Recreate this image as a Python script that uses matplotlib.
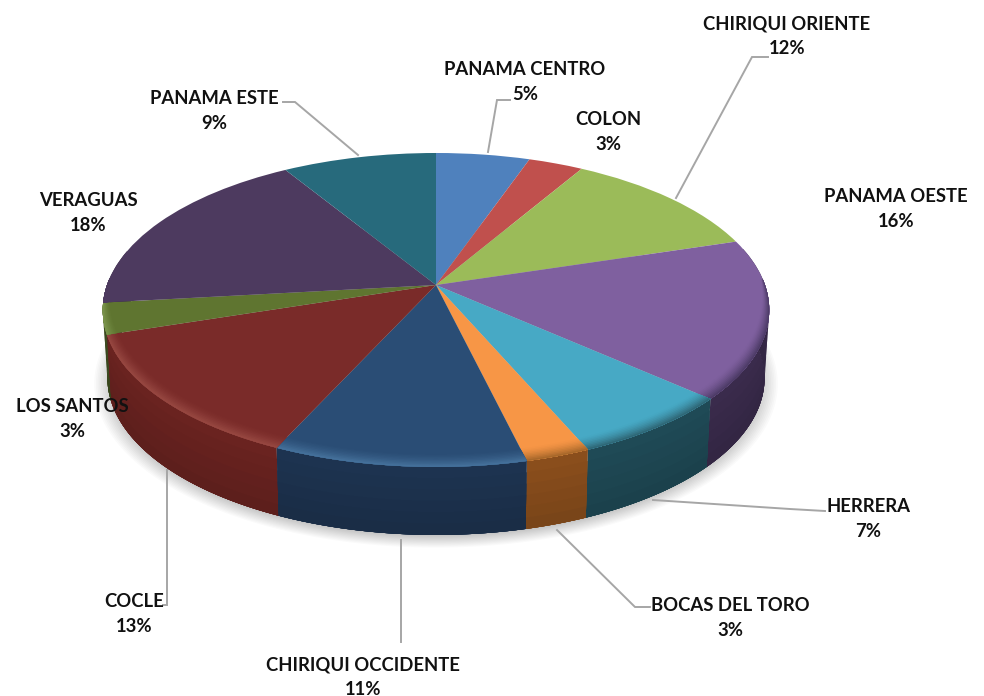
import numpy as np
import matplotlib
matplotlib.use("Agg")
import matplotlib.pyplot as plt
from matplotlib.transforms import Transform
from matplotlib.colors import to_rgb

plt.rcParams['font.family'] = ['Lato', 'DejaVu Sans']

categories = ["PANAMA CENTRO", "COLON", "CHIRIQUI ORIENTE", "PANAMA OESTE", "HERRERA",
              "BOCAS DEL TORO", "CHIRIQUI OCCIDENTE", "COCLE", "LOS SANTOS", "VERAGUAS", "PANAMA ESTE"]
shares = [5.3, 3.1, 11.8, 16.4, 6.95, 2.7, 10.55, 13.2, 3.2, 18.1, 8.7]
percent_labels = ["5%", "3%", "12%", "16%", "7%", "3%", "11%", "13%", "3%", "18%", "9%"]
top_colors = ["#4F81BD", "#C0504D", "#9BBB59", "#7F609F", "#47A9C5", "#F79646",
              "#2A4D75", "#7A2B29", "#5F7530", "#4D3A5F", "#276A7C"]
side_colors = ["#2F4D72", "#76302E", "#5D7035", "#3A2B4C", "#1F4A56", "#8A4E1C",
               "#1D3350", "#6A2320", "#3F4E20", "#33273F", "#1A4652"]
bevel_colors = ["#2F4D72", "#76302E", "#5D7035", "#4E3C68", "#2F6878", "#A8682A",
                "#44709A", "#964640", "#7A944C", "#4D3A5F", "#276A7C"]

label_xy = [(525, 82), (608, 132), (787, 36), (896, 209), (868, 519),
            (730, 618), (363, 677), (134, 614), (72, 419), (88, 213), (214, 111)]
leaders = [
    [(488, 152), (497, 100), (510, 100)],
    [(676, 198), (752, 57), (768, 57)],
    [(653, 500), (790, 509), (825, 511)],
    [(557, 530), (635, 607), (650, 607)],
    [(401, 540), (401, 642)],
    [(167, 470), (167, 605), (163, 605)],
    [(358, 155), (295, 102), (283, 102)],
]

CX, CY, RX, RY, PC = 436.0, 285.0, 329.0, 153.0, 0.159
DEPTH = 68.0
NARROW = 0.014


def project(x, y, dy=0.0):
    w = 1 + PC * np.asarray(y)
    scale = 1 - NARROW * dy / DEPTH
    return CX + scale * RX * np.asarray(x) / w, CY - RY * np.asarray(y) / w + dy


class Perspective(Transform):
    input_dims = output_dims = 2
    is_affine = False
    has_inverse = False

    def transform_non_affine(self, values):
        v = np.asarray(values, float)
        px, py = project(v[:, 0], v[:, 1])
        return np.column_stack([px, py])


def lerp(a, b, t):
    a, b = np.array(to_rgb(a)), np.array(to_rgb(b))
    return tuple(a + (b - a) * t)


fig = plt.figure(figsize=(9.84, 6.96), dpi=100)
ax = fig.add_axes([0, 0, 1, 1])
wedges, _ = ax.pie(shares, colors=top_colors, startangle=90, counterclock=False, radius=1.0,
                   wedgeprops=dict(linewidth=0, antialiased=True, zorder=5))
ax.set_aspect('auto')
ax.set_xlim(0, 984)
ax.set_ylim(696, 0)
ax.axis('off')
persp = Perspective() + ax.transData
for w in wedges:
    w.set_transform(persp)

# soft shadow below the disc
t_all = np.radians(np.linspace(0, 360, 361))
for s in np.linspace(1.04, 0.985, 12):
    sx, sy = project(np.cos(t_all) * s, np.sin(t_all) * s, DEPTH + 4)
    ax.fill(sx, sy, color="black", alpha=0.018, lw=0, zorder=1)

# rim of every slice, back to front
order = []
for i, w in enumerate(wedges):
    ang = np.radians(np.linspace(w.theta1, w.theta2, 60))
    ang = ang[np.sin(ang) < 0.25]
    if ang.size >= 2:
        order.append((np.mean(np.sin(ang)), i, ang))
order.sort(key=lambda o: -o[0])
bands = 6
for z, (_, i, ang) in enumerate(order):
    xb, yb = project(np.cos(ang), np.sin(ang), DEPTH)
    for b in range(bands):
        xt, yt = project(np.cos(ang), np.sin(ang), DEPTH * b / bands)
        c = lerp(side_colors[i], "#000000", 0.12 * b / (bands - 1))
        ax.fill(np.r_[xt, xb[::-1]], np.r_[yt, yb[::-1]], color=c, lw=0, zorder=2 + z * 0.01)

# bevelled edge on the front half of the top face
steps = 9
for i, w in enumerate(wedges):
    ang = np.radians(np.linspace(w.theta1, w.theta2, 60))
    ang = ang[np.sin(ang) < 0.05]
    if ang.size < 2:
        continue
    taper = np.clip(-np.sin(ang) + 0.05, 0, 1) ** 0.6
    for k in range(steps):
        r_in = 1 - 0.06 * (steps - k) / steps * taper
        c = lerp(top_colors[i], bevel_colors[i], ((k + 1) / steps) ** 1.5)
        xo, yo = project(np.cos(ang), np.sin(ang))
        xi, yi = project(r_in * np.cos(ang), r_in * np.sin(ang))
        ax.fill(np.r_[xo, xi[::-1]], np.r_[yo, yi[::-1]], color=c, lw=0, zorder=6)

for pts in leaders:
    xs, ys = zip(*pts)
    ax.plot(xs, ys, color="#A6A6A6", lw=1.4, zorder=7, solid_joinstyle='miter')

for name, pct, (x, y) in zip(categories, percent_labels, label_xy):
    ax.text(x, y, f"{name}\n{pct}", ha='center', va='center', fontsize=13.3,
            fontweight='bold', color="#111111", linespacing=1.52, zorder=8)

fig.savefig("out.png", dpi=100)
